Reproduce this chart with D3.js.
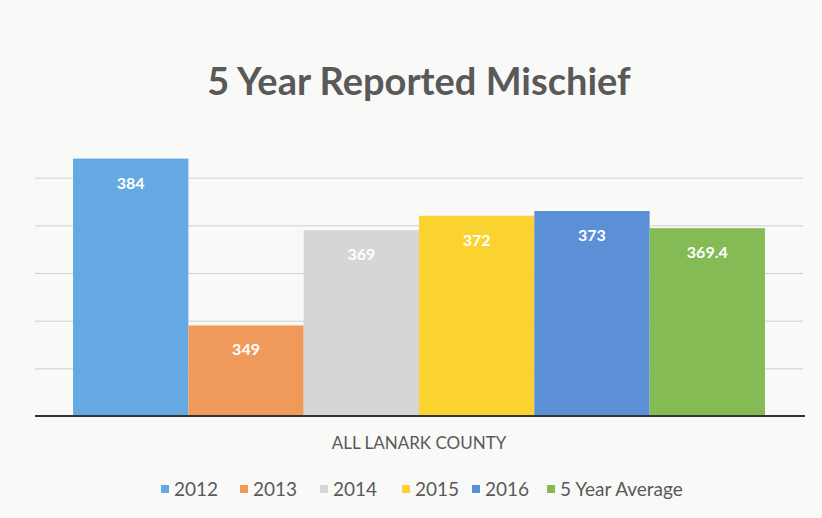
<!DOCTYPE html>
<html lang="en">
<head>
    <meta charset="UTF-8">
    <title>5 Year Reported Mischief</title>
    <script src="https://cdnjs.cloudflare.com/ajax/libs/d3/7.8.5/d3.min.js"></script>
    <style>
        body {
            margin: 0;
            background-color: #f9f9f7;
            font-family: Lato, 'Open Sans', sans-serif;
        }

        #chart {
            display: block;
        }

        .grid line {
            stroke: #d0d0d0;
            stroke-width: 1;
        }

        .bar-label {
            font-size: 16px;
            font-weight: 700;
            fill: #ffffff;
            text-anchor: middle;
        }

        .chart-title {
            font-size: 38px;
            font-weight: 700;
            fill: #595959;
            text-anchor: middle;
        }

        .axis-label {
            font-size: 17px;
            fill: #595959;
            text-anchor: middle;
        }

        .legend-text {
            font-size: 19px;
            fill: #595959;
        }
    </style>
</head>
<body>
    <svg id="chart" width="822" height="518"></svg>

    <script>
        const category = 'ALL LANARK COUNTY';
        const seriesNames = ['2012', '2013', '2014', '2015', '2016', '5 Year Average'];
        const seriesValues = [384, 349, 369, 372, 373, 369.4];
        const seriesLabels = ['384', '349', '369', '372', '373', '369.4'];
        const seriesColors = ['#65a9e3', '#ef9a5a', '#d6d6d6', '#fbd331', '#5b8fd6', '#84bb55'];
        const gridTicks = [340, 350, 360, 370, 380];

        const svg = d3.select('#chart');
        const margin = { top: 130, right: 19, bottom: 102, left: 35 };
        const width = +svg.attr('width');
        const height = +svg.attr('height');
        const plotW = width - margin.left - margin.right;
        const plotH = height - margin.top - margin.bottom;

        const g = svg.append('g')
            .attr('transform', `translate(${margin.left},${margin.top})`);

        // y scale starts at 330 like the original
        const y = d3.scaleLinear()
            .domain([330, 390])
            .range([plotH, 0]);

        const x0 = d3.scaleBand()
            .domain([category])
            .range([0, plotW])
            .paddingInner(0)
            .paddingOuter(0.055);

        const x1 = d3.scaleBand()
            .domain(seriesNames)
            .range([0, x0.bandwidth()])
            .padding(0);

        const color = d3.scaleOrdinal()
            .domain(seriesNames)
            .range(seriesColors);

        // gridlines
        g.append('g')
            .attr('class', 'grid')
            .call(d3.axisLeft(y).tickValues(gridTicks).tickSize(-plotW).tickFormat(''))
            .call(gg => gg.select('.domain').remove());

        const data = seriesNames.map((name, i) => ({
            name: name,
            value: seriesValues[i],
            label: seriesLabels[i]
        }));

        const group = g.append('g')
            .attr('transform', `translate(${x0(category)},0)`);

        group.selectAll('rect')
            .data(data)
            .enter()
            .append('rect')
            .attr('x', d => x1(d.name))
            .attr('y', d => y(d.value))
            .attr('width', x1.bandwidth())
            .attr('height', d => plotH - y(d.value))
            .attr('fill', d => color(d.name));

        group.selectAll('.bar-label')
            .data(data)
            .enter()
            .append('text')
            .attr('class', 'bar-label')
            .attr('x', d => x1(d.name) + x1.bandwidth() / 2)
            .attr('y', d => y(d.value) + 30)
            .text(d => d.label);

        // baseline
        g.append('line')
            .attr('x1', 0)
            .attr('x2', plotW + 2)
            .attr('y1', plotH)
            .attr('y2', plotH)
            .attr('stroke', '#333333')
            .attr('stroke-width', 2);

        // title
        svg.append('text')
            .attr('class', 'chart-title')
            .attr('x', 419)
            .attr('y', 95)
            .text('5 Year Reported Mischief');

        // category label
        svg.append('text')
            .attr('class', 'axis-label')
            .attr('x', 419)
            .attr('y', 449)
            .text(category);

        // legend
        const legendX = [161, 240, 320, 402, 472, 547];
        const legend = svg.append('g')
            .attr('transform', 'translate(0,489)');

        const items = legend.selectAll('g')
            .data(seriesNames)
            .enter()
            .append('g')
            .attr('transform', (d, i) => `translate(${legendX[i]},0)`);

        items.append('rect')
            .attr('x', 0)
            .attr('y', -4)
            .attr('width', 8)
            .attr('height', 8)
            .attr('fill', d => color(d));

        items.append('text')
            .attr('class', 'legend-text')
            .attr('x', 13)
            .attr('y', 7)
            .text(d => d);
    </script>
</body>
</html>
